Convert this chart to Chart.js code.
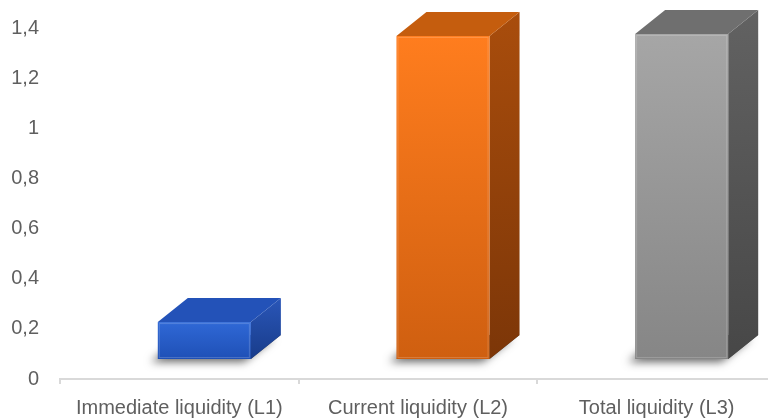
<!DOCTYPE html>
<html>
<head>
<meta charset="utf-8">
<script src="https://cdn.jsdelivr.net/npm/chart.js@4.4.1/dist/chart.umd.min.js"></script>
<style>
    html, body { margin: 0; padding: 0; background: #fff; overflow: hidden; }
    #wrap { width: 776px; height: 419px; }
</style>
</head>
<body>
<div id="wrap"><canvas id="liquidityChart" width="776" height="419"></canvas></div>
<script>
// data
const categories = ['Immediate liquidity (L1)', 'Current liquidity (L2)', 'Total liquidity (L3)'];
const ratios = [0.227, 1.368, 1.376];

// face colours per bar: front top, front bottom, top face, side top, side bottom
const frontTop = ['#2f68d6', '#ff7d1e', '#a6a6a6'];
const frontBottom = ['#1f50b6', '#cf5f10', '#868686'];
const topFace = ['#2352b8', '#c55d0e', '#6f6f6f'];
const sideTop = ['#2a56b8', '#a94d0c', '#626262'];
const sideBottom = ['#183c8a', '#7c3608', '#474747'];

const textColor = '#5f5f5f';
const fontName = '"Liberation Sans Narrow", "Arial Narrow", "Liberation Sans", Arial, sans-serif';

// draws the transparent bars as excel-like 3d columns
const bars3d = {
    id: 'bars3d',
    afterDatasetsDraw(chart) {
        const ctx = chart.ctx;
        const meta = chart.getDatasetMeta(0);
        const dx = 30, dy = 24, shift = 25, lift = 20;
        meta.data.forEach((bar, i) => {
            const w = bar.width;
            const fl = bar.x - w / 2 + shift;
            const fr = fl + w;
            const ft = bar.y;
            const fb = bar.base - lift;

            ctx.save();
            // soft floor shadow
            ctx.shadowColor = 'rgba(0,0,0,0.6)';
            ctx.shadowBlur = 9;
            ctx.shadowOffsetX = -7;
            ctx.shadowOffsetY = 3;
            ctx.fillStyle = 'rgba(80,80,80,1)';
            ctx.beginPath();
            ctx.moveTo(fl, fb);
            ctx.lineTo(fr, fb);
            ctx.lineTo(fr + dx, fb - dy);
            ctx.lineTo(fl + dx, fb - dy);
            ctx.closePath();
            ctx.fill();
            ctx.restore();

            // side face
            let g = ctx.createLinearGradient(0, ft - dy, 0, fb);
            g.addColorStop(0, sideTop[i]);
            g.addColorStop(1, sideBottom[i]);
            ctx.fillStyle = g;
            ctx.beginPath();
            ctx.moveTo(fr, ft);
            ctx.lineTo(fr + dx, ft - dy);
            ctx.lineTo(fr + dx, fb - dy);
            ctx.lineTo(fr, fb);
            ctx.closePath();
            ctx.fill();

            // top face
            ctx.fillStyle = topFace[i];
            ctx.beginPath();
            ctx.moveTo(fl, ft);
            ctx.lineTo(fr, ft);
            ctx.lineTo(fr + dx, ft - dy);
            ctx.lineTo(fl + dx, ft - dy);
            ctx.closePath();
            ctx.fill();

            // front face
            g = ctx.createLinearGradient(0, ft, 0, fb);
            g.addColorStop(0, frontTop[i]);
            g.addColorStop(1, frontBottom[i]);
            ctx.fillStyle = g;
            ctx.fillRect(fl, ft, w, fb - ft);
            ctx.strokeStyle = 'rgba(255,255,255,0.18)';
            ctx.lineWidth = 1;
            ctx.strokeRect(fl + 1.5, ft + 1.5, w - 3, fb - ft - 3);
        });
    }
};

new Chart(document.getElementById('liquidityChart'), {
    type: 'bar',
    data: {
        labels: categories,
        datasets: [{
            data: ratios,
            backgroundColor: 'rgba(0,0,0,0)',
            barPercentage: 0.78,
            categoryPercentage: 0.5
        }]
    },
    options: {
        responsive: false,
        animation: false,
        layout: { padding: { top: 28, right: 0, bottom: 0, left: 0 } },
        plugins: {
            legend: { display: false },
            tooltip: { enabled: false }
        },
        scales: {
            x: {
                afterFit: (scale) => { scale.height = 40; },
                grid: {
                    offset: true,
                    drawOnChartArea: false,
                    drawTicks: true,
                    tickLength: 5,
                    color: '#d9d9d9',
                    lineWidth: 2
                },
                border: { display: true, color: '#d9d9d9', width: 2 },
                ticks: {
                    color: textColor,
                    padding: 12,
                    maxRotation: 0,
                    font: { family: fontName, size: 20 }
                }
            },
            y: {
                min: 0,
                max: 1.4,
                afterFit: (scale) => {
                    scale.width = 60;
                    scale.paddingTop = 0;
                    scale.paddingBottom = 0;
                },
                grid: { display: false, drawTicks: false },
                border: { display: false },
                ticks: {
                    stepSize: 0.2,
                    padding: 21,
                    color: textColor,
                    font: { family: fontName, size: 20 },
                    callback: (v) => String(Math.round(v * 10) / 10).replace('.', ',')
                }
            }
        }
    },
    plugins: [bars3d]
});
</script>
</body>
</html>
